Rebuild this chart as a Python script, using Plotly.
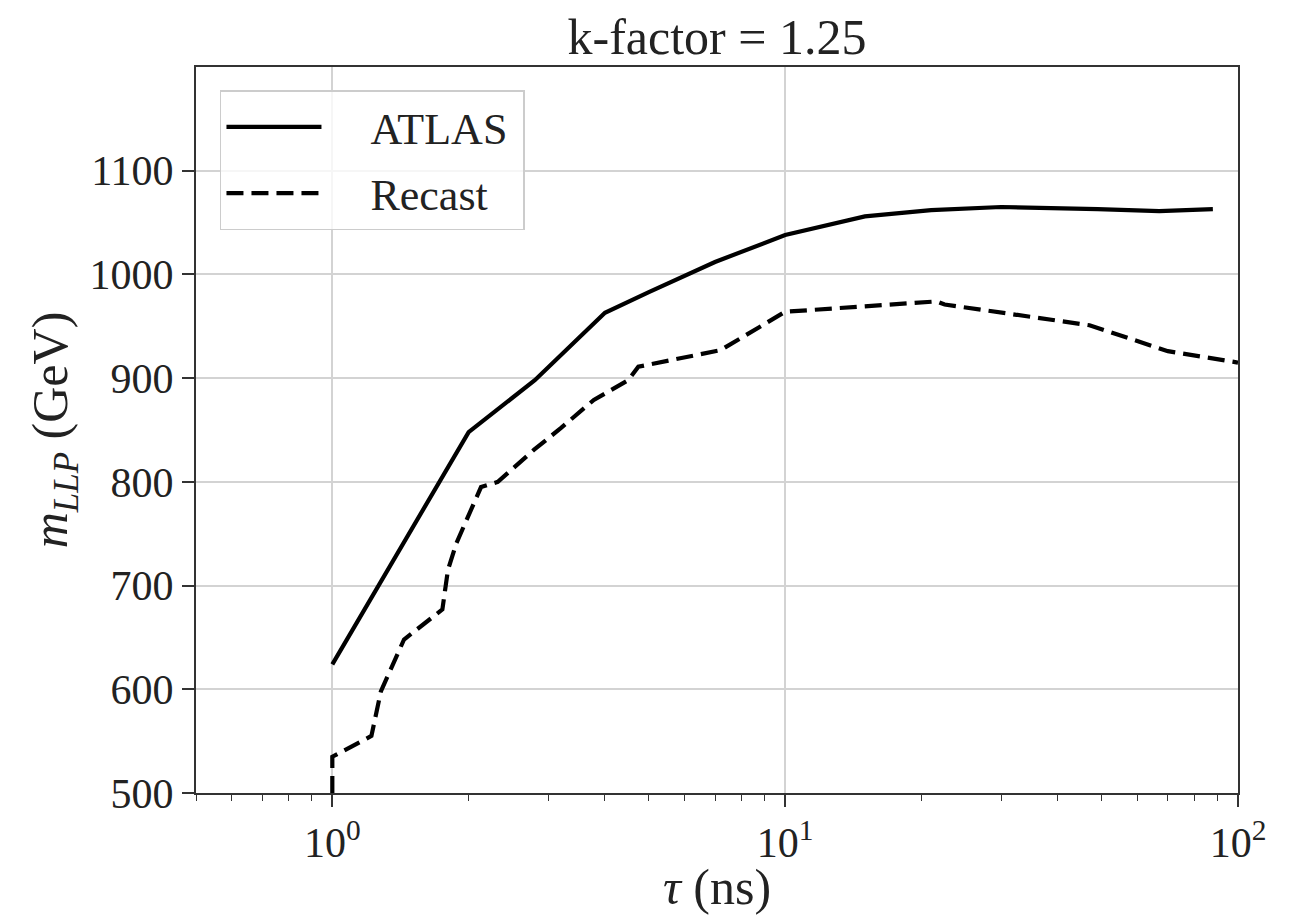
import plotly.graph_objects as go

atlas_tau = [1.0, 2.0, 2.8, 4.0, 5.0, 7.0, 10.0, 15.0, 21.0, 30.0, 49.0, 67.0, 88.0]
atlas_m = [624, 848, 898, 963, 983, 1012, 1038, 1056, 1062, 1065, 1063, 1061, 1063]

recast_tau = [1.0, 1.0, 1.22, 1.28, 1.44, 1.75, 1.80, 1.88, 2.13, 2.32, 2.79, 3.2, 3.78,
              4.5, 4.74, 7.2, 10.0, 21.6, 22.5, 47.0, 70.0, 100.0]
recast_m = [500, 535, 555, 598, 648, 677, 715, 741, 795, 800, 831, 852, 879,
            898, 911, 927, 964, 974, 971, 951, 926, 915]

y_ticks = [500, 600, 700, 800, 900, 1000, 1100]
x_major = [1, 10, 100]
x_major_text = ["10<sup>0</sup>", "10<sup>1</sup>", "10<sup>2</sup>"]
x_minor = [0.5, 0.6, 0.7, 0.8, 0.9, 2, 3, 4, 5, 6, 7, 8, 9,
           20, 30, 40, 50, 60, 70, 80, 90]

FONT = "Liberation Serif"
PAD = "\u00a0\u00a0\u00a0\u00a0"

fig = go.Figure()
fig.add_trace(go.Scatter(x=atlas_tau, y=atlas_m, mode="lines", name=PAD + "ATLAS\u00a0",
                         legendgroup="a",
                         line=dict(color="black", width=4.2)))
fig.add_trace(go.Scatter(x=recast_tau, y=recast_m, mode="lines", name=PAD + "Recast",
                         legendgroup="b",
                         line=dict(color="black", width=4.2, dash="17px,8px")))
# invisible trace to activate minor-tick axis
fig.add_trace(go.Scatter(x=[1], y=[500], xaxis="x2", mode="markers",
                         marker=dict(opacity=0), showlegend=False, hoverinfo="skip"))

xr = [-0.30103, 2.0]
fig.update_layout(
    width=1291, height=915,
    margin=dict(l=196, r=53, t=67, b=122),
    paper_bgcolor="white", plot_bgcolor="white",
    font=dict(family=FONT, size=42, color="#222"),
    title=dict(text="k-factor = 1.25", x=(196 + 1238) / 2 / 1291, xanchor="center",
               y=1 - 36 / 915, yanchor="middle",
               font=dict(size=50, family=FONT, color="#222")),
    xaxis=dict(type="log", range=xr, tickvals=x_major, ticktext=x_major_text,
               ticks="outside", ticklen=12, tickwidth=1.5, tickcolor="#333",
               showgrid=True, gridcolor="#d3d3d3", gridwidth=1.5,
               showline=True, linecolor="#333", linewidth=2, mirror=True,
               zeroline=False,
               title=dict(text="<i>τ</i> (ns)", font=dict(size=50, family=FONT), standoff=2),
               tickfont=dict(size=42, family=FONT)),
    xaxis2=dict(type="log", range=xr, overlaying="x", anchor="y", side="bottom",
                tickvals=x_minor, ticktext=[""] * len(x_minor),
                ticks="outside", ticklen=7, tickwidth=1.2, tickcolor="#333",
                showgrid=False, showline=False, zeroline=False),
    yaxis=dict(range=[500, 1200], tickvals=y_ticks,
               ticks="outside", ticklen=12, tickwidth=1.5, tickcolor="#333",
               showgrid=True, gridcolor="#d3d3d3", gridwidth=1.5,
               showline=True, linecolor="#333", linewidth=2, mirror=True,
               zeroline=False,
               title=dict(text="<i>m</i><sub><i>LLP</i></sub> (GeV)",
                          font=dict(size=50, family=FONT), standoff=6),
               tickfont=dict(size=42, family=FONT)),
    legend=dict(x=0.023, y=0.968, xanchor="left", yanchor="top",
                bgcolor="rgba(255,255,255,0.8)", bordercolor="#cccccc", borderwidth=1.5,
                font=dict(size=44, family=FONT, color="#222"), itemwidth=95, tracegroupgap=6),
    showlegend=True,
)

fig.write_html("out.html")
